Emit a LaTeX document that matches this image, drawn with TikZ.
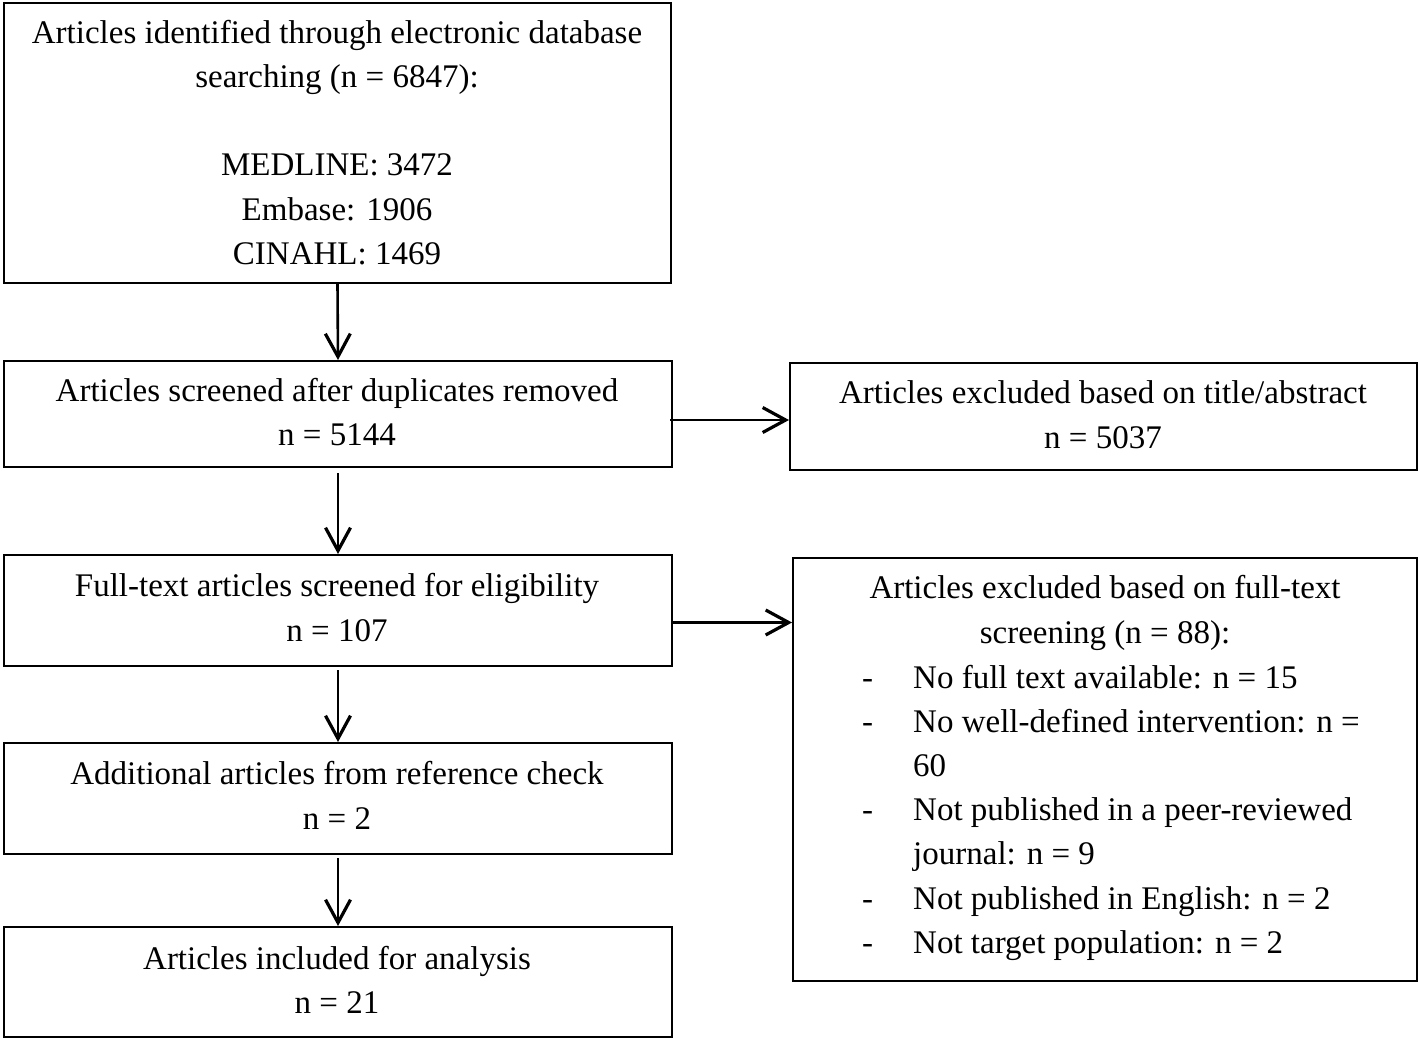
\documentclass[tikz,border=0pt]{standalone}
\usepackage{fontspec}
\setmainfont{Liberation Serif}
\usetikzlibrary{arrows.meta}
\begin{document}
\begin{tikzpicture}[x=1pt,y=-1pt,
  font=\fontsize{33}{44}\selectfont,
  box/.style={draw, line width=2pt, inner sep=0pt, anchor=north west},
  txt/.style={anchor=base, inner sep=0pt},
  ltxt/.style={anchor=base west, inner sep=0pt},
  arr/.style={line width=2.6pt, -{Straight Barb[length=23pt,width=25pt,line width=3.2pt]}}]
\useasboundingbox (0,0) rectangle (1419,1039);
% boxes
\node[box, minimum width=667pt, minimum height=280pt] (b1) at (3,2) {};
\node[box, minimum width=668pt, minimum height=106pt] (b2) at (3,360) {};
\node[box, minimum width=627pt, minimum height=107pt] (b3) at (789,362) {};
\node[box, minimum width=668pt, minimum height=111pt] (b4) at (3,554) {};
\node[box, minimum width=624pt, minimum height=423pt] (b5) at (792,557) {};
\node[box, minimum width=668pt, minimum height=111pt] (b6) at (3,742) {};
\node[box, minimum width=668pt, minimum height=110pt] (b7) at (3,926) {};
% texts
\node[txt] (t1a) at (337,43) {Articles identified through electronic database};
\node[txt] (t1b) at (337,87) {searching (n = 6847):};
\node[txt] (t1c) at (337,175) {MEDLINE: 3472};
\node[txt] (t1d) at (337,220) {Embase: 1906};
\node[txt] (t1e) at (337,264) {CINAHL: 1469};
\node[txt] (t2a) at (337,401) {Articles screened after duplicates removed};
\node[txt] (t2b) at (337,445) {n = 5144};
\node[txt] (t3a) at (1103,403) {Articles excluded based on title/abstract};
\node[txt] (t3b) at (1103,448) {n = 5037};
\node[txt] (t4a) at (337,596) {Full-text articles screened for eligibility};
\node[txt] (t4b) at (337,641) {n = 107};
\node[txt] (t6a) at (337,784) {Additional articles from reference check};
\node[txt] (t6b) at (337,829) {n = 2};
\node[txt] (t7a) at (337,969) {Articles included for analysis};
\node[txt] (t7b) at (337,1013) {n = 21};
\node[txt] (t5a) at (1105,598) {Articles excluded based on full-text};
\node[txt] (t5b) at (1105,643) {screening (n = 88):};
\node[ltxt] (d1) at (862,688) {-};
\node[ltxt] (l1) at (913,688) {No full text available: n = 15};
\node[ltxt] (d2) at (862,732) {-};
\node[ltxt] (l2) at (913,732) {No well-defined intervention: n =};
\node[ltxt] (l2b) at (913,776) {60};
\node[ltxt] (d3) at (862,820) {-};
\node[ltxt] (l3) at (913,820) {Not published in a peer-reviewed};
\node[ltxt] (l3b) at (913,864) {journal: n = 9};
\node[ltxt] (d4) at (862,909) {-};
\node[ltxt] (l4) at (913,909) {Not published in English: n = 2};
\node[ltxt] (d5) at (862,953) {-};
\node[ltxt] (l5) at (913,953) {Not target population: n = 2};
% arrows
\draw[arr] (b1.south) -- (b2.north);
\draw[arr] ([yshift=-5pt]b2.south) -- (b4.north);
\draw[arr] ([yshift=-3pt]b4.south) -- (b6.north);
\draw[arr] ([yshift=-3pt]b6.south) -- (b7.north);
\draw[arr] (b2.east) ++(-3,6) coordinate (c23) (c23) -- (c23 -| b3.west);
\draw[arr] (b4.east) ++(0,12) coordinate (c45) (c45) -- (c45 -| b5.west);
\end{tikzpicture}
\end{document}
